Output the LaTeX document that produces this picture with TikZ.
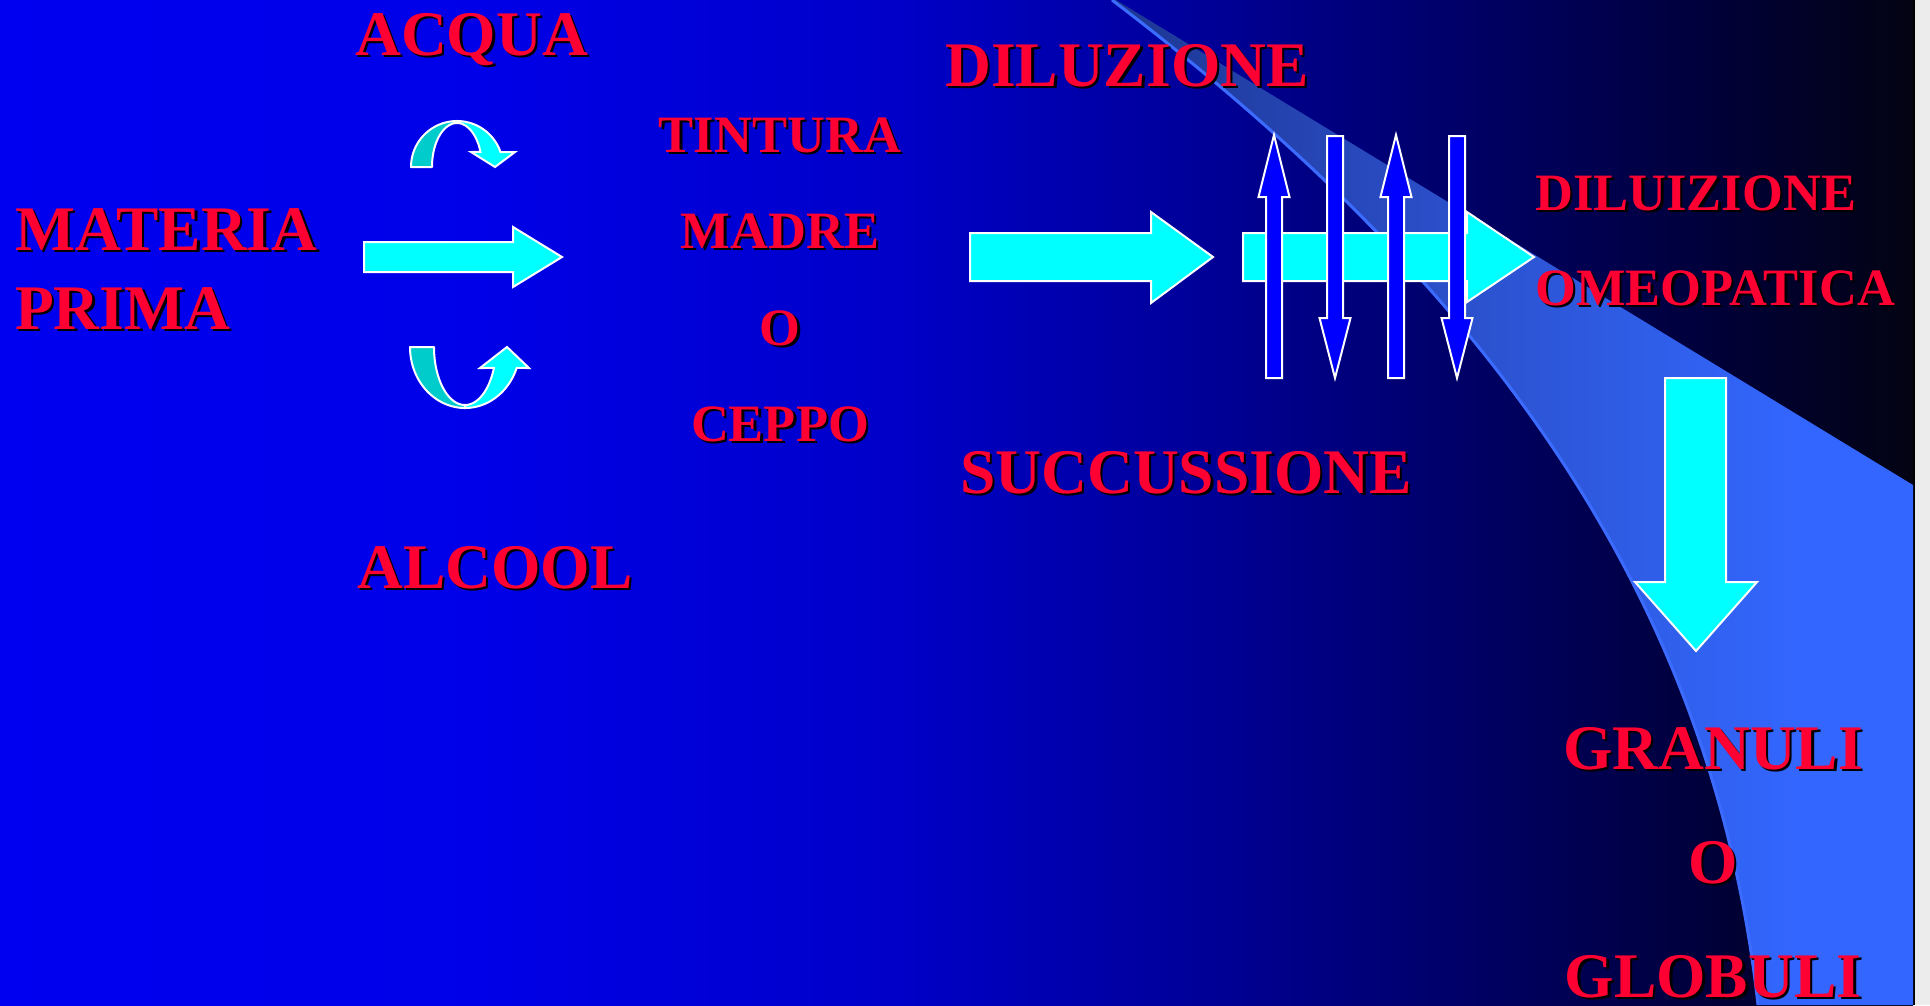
\documentclass[tikz,border=0pt]{standalone}
\usepackage{fontspec}
\setmainfont{Liberation Serif}
\usetikzlibrary{calc}
\definecolor{titlered}{RGB}{255,0,51}
\definecolor{arrowcyan}{RGB}{0,255,255}
\definecolor{curvecyan}{RGB}{0,204,204}
\definecolor{arrowblue}{RGB}{0,0,255}
\definecolor{edgeblue}{RGB}{60,108,255}
\definecolor{pagegray}{RGB}{236,236,236}
\definecolor{bgA}{RGB}{0,0,240}
\definecolor{bgB}{RGB}{0,0,232}
\definecolor{bgC}{RGB}{0,0,200}
\definecolor{bgD}{RGB}{0,0,152}
\definecolor{bgE}{RGB}{0,0,96}
\definecolor{bgF}{RGB}{0,0,60}
\definecolor{bgG}{RGB}{3,3,18}
\definecolor{wA}{RGB}{28,54,145}
\definecolor{wB}{RGB}{42,76,195}
\definecolor{wC}{RGB}{47,94,232}
\definecolor{wD}{RGB}{51,102,255}
\pgfdeclarehorizontalshading{bgshade}{100bp}{color(0bp)=(bgA); color(25bp)=(bgA); color(37.5bp)=(bgB); color(48.5bp)=(bgC); color(56.4bp)=(bgD); color(64.2bp)=(bgE); color(69.4bp)=(bgF); color(75bp)=(bgG); color(100bp)=(bgG)}
\pgfdeclarehorizontalshading{wedgeshade}{100bp}{color(0bp)=(wA); color(25bp)=(wA); color(43bp)=(wB); color(58.6bp)=(wC); color(67.9bp)=(wD); color(100bp)=(wD)}
\newcommand\shlabel[5]{%
  \node[#4, anchor=#3, text=black, xshift=2.5pt, yshift=-2.5pt] (#1s) at (#2) {#5};
  \node[#4, anchor=#3, text=titlered] (#1) at (#2) {#5};}
\newcommand\vupshape[1]{\filldraw[bluearrow] (#1-8,378) -- (#1-8,197) -- (#1-15.5,197) -- (#1,135) -- (#1+15.5,197) -- (#1+8,197) -- (#1+8,378) -- cycle;}
\newcommand\vdownshape[1]{\filldraw[bluearrow] (#1-8,136) -- (#1+8,136) -- (#1+8,318) -- (#1+15.5,318) -- (#1,378) -- (#1-15.5,318) -- (#1-8,318) -- cycle;}
\begin{document}
\begin{tikzpicture}[x=1pt,y=-1pt,
  bigtxt/.style={inner sep=0pt, text depth=0pt, font=\bfseries\fontsize{63.5}{63.5}\selectfont},
  smalltxt/.style={inner sep=0pt, text depth=0pt, font=\bfseries\fontsize{52.5}{52.5}\selectfont},
  cyanarrow/.style={fill=arrowcyan, draw=white, line width=2pt, line join=miter},
  bluearrow/.style={fill=arrowblue, draw=white, line width=2pt, line join=miter},
  curvedark/.style={fill=curvecyan, draw=white, line width=2pt, line join=round},
  curvebright/.style={fill=arrowcyan, draw=white, line width=2pt, line join=miter}]
\useasboundingbox (0,0) rectangle (1930,1005);
% page and slide background
\fill[pagegray] (0,0) rectangle (1930,1005);
\shade[shading=bgshade] (0,0) rectangle (1913,1005);
\fill[black] (1913,0) rectangle (1915,1005);
% light blue wedge
\shade[shading=wedgeshade] (1116,0) -- (1913,485) -- (1913,1005) -- (1758,1005) .. controls (1712,590) and (1480,280) .. (1112,0) -- cycle;
\draw[edgeblue, line width=3pt] (1758,1005) .. controls (1712,590) and (1480,280) .. (1112,0);
% curved arrow (ACQUA)
\filldraw[curvedark] plot[domain=180:270,samples=40] ({457+46*cos(\x)},{167+46*sin(\x)}) -- plot[domain=270:180,samples=40] ({457+25*cos(\x)},{167+44*sin(\x)}) -- cycle;
\filldraw[curvebright] plot[domain=270:341,samples=40] ({457+46*cos(\x)},{167+46*sin(\x)}) -- (515,152) -- (495,167) -- (471,152) -- plot[domain=340:270,samples=40] ({457+25*cos(\x)},{167+44*sin(\x)}) -- cycle;
% curved arrow (ALCOOL)
\filldraw[curvedark] plot[domain=180:90,samples=40] ({465+55*cos(\x)},{347+61*sin(\x)}) -- plot[domain=90:180,samples=40] ({465+31*cos(\x)},{347+58*sin(\x)}) -- cycle;
\filldraw[curvebright] plot[domain=90:20.1,samples=40] ({465+55*cos(\x)},{347+61*sin(\x)}) -- (529,368) -- (507,347) -- (480,368) -- plot[domain=21.2:90,samples=40] ({465+31*cos(\x)},{347+58*sin(\x)}) -- cycle;
% straight cyan arrows
\filldraw[cyanarrow] (364,242) -- (513,242) -- (513,227) -- (562,257) -- (513,287) -- (513,272) -- (364,272) -- cycle;
\filldraw[cyanarrow] (970,233) -- (1151,233) -- (1151,212) -- (1213,257) -- (1151,303) -- (1151,281) -- (970,281) -- cycle;
\filldraw[cyanarrow] (1243,233) -- (1467,233) -- (1467,212) -- (1534,257) -- (1467,302) -- (1467,281) -- (1243,281) -- cycle;
% vertical succussion arrows
\vupshape{1274}
\vdownshape{1335}
\vupshape{1396}
\vdownshape{1457}
% down arrow
\filldraw[cyanarrow] (1665,378) -- (1726,378) -- (1726,582) -- (1757,582) -- (1696,651) -- (1635,582) -- (1665,582) -- cycle;
% texts
\shlabel{acqua}{355,55}{base west}{bigtxt}{ACQUA}
\shlabel{materia}{15,250}{base west}{bigtxt}{MATERIA}
\shlabel{prima}{15,329}{base west}{bigtxt}{PRIMA}
\shlabel{alcool}{357,588}{base west}{bigtxt}{ALCOOL}
\shlabel{tintura}{780,152}{base}{smalltxt}{TINTURA}
\shlabel{madre}{780,248}{base}{smalltxt}{MADRE}
\shlabel{oa}{780,345}{base}{smalltxt}{O}
\shlabel{ceppo}{780,441}{base}{smalltxt}{CEPPO}
\shlabel{diluzione}{945,86}{base west}{bigtxt}{DILUZIONE}
\shlabel{succussione}{960,493}{base west}{bigtxt}{SUCCUSSIONE}
\shlabel{diluizione}{1535,210}{base west}{smalltxt}{DILUIZIONE}
\shlabel{omeopatica}{1535,305}{base west}{smalltxt}{OMEOPATICA}
\shlabel{granuli}{1713,769}{base}{bigtxt}{GRANULI}
\shlabel{ob}{1713,883}{base}{bigtxt}{O}
\shlabel{globuli}{1713,997}{base}{bigtxt}{GLOBULI}
\end{tikzpicture}
\end{document}
